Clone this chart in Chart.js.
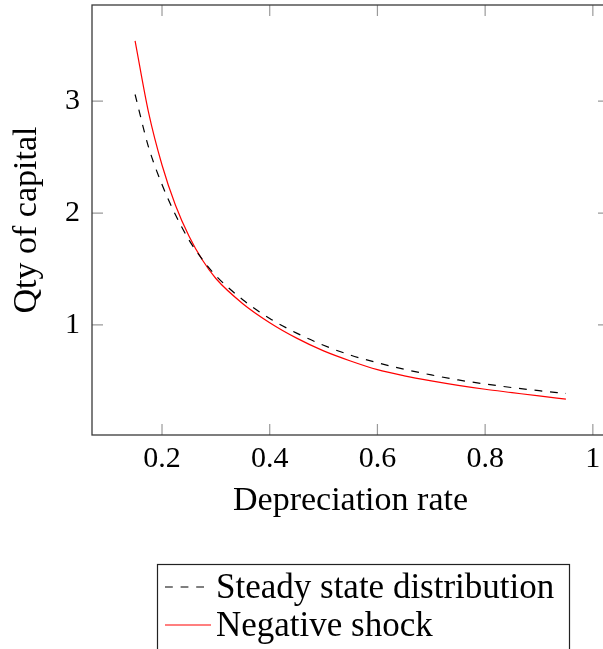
<!DOCTYPE html>
<html>
<head>
<meta charset="utf-8">
<script src="https://cdn.jsdelivr.net/npm/chart.js@4.4.1/dist/chart.umd.min.js"></script>
<style>
  html, body { margin: 0; padding: 0; background: #fff; overflow: hidden; }
  #wrap { position: relative; width: 612px; height: 649px; }
</style>
</head>
<body>
<div id="wrap"><canvas id="capitalChart"></canvas></div>
<script>
  // depreciation rate on x, quantity of capital on y
  const depreciation = [0.15, 0.175, 0.2, 0.225, 0.25, 0.275, 0.3, 0.35, 0.4, 0.45, 0.5, 0.55, 0.6, 0.65, 0.7, 0.75, 0.8, 0.85, 0.9, 0.95];
  const steadyState = [3.06, 2.59, 2.255, 1.985, 1.76, 1.585, 1.44, 1.225, 1.058, 0.927, 0.818, 0.73, 0.662, 0.603, 0.553, 0.508, 0.472, 0.44, 0.412, 0.387];
  const negativeShock = [3.54, 2.90, 2.43, 2.07, 1.795, 1.58, 1.415, 1.19, 1.02, 0.882, 0.768, 0.678, 0.60, 0.545, 0.50, 0.46, 0.425, 0.395, 0.365, 0.337];
  const xTicks = [0.2, 0.4, 0.6, 0.8, 1];
  const yTicks = [1, 2, 3];
  const seriesNames = ['Steady state distribution', 'Negative shock'];

  const SERIF = '"Liberation Serif", "Times New Roman", serif';

  function toPoints(ys) {
    return depreciation.map((x, i) => ({ x: x, y: ys[i] }));
  }

  // pgfplots-style box: ticks point inward on all four sides
  const frameTicks = {
    id: 'frameTicks',
    afterDatasetsDraw(chart) {
      const { ctx, chartArea: a, scales: { x, y } } = chart;
      const len = 11;
      ctx.save();
      ctx.strokeStyle = '#9a9a9a';
      ctx.lineWidth = 1.2;
      ctx.beginPath();
      xTicks.forEach(v => {
        const px = x.getPixelForValue(v);
        ctx.moveTo(px, a.bottom); ctx.lineTo(px, a.bottom - len);
        ctx.moveTo(px, a.top); ctx.lineTo(px, a.top + len);
      });
      yTicks.forEach(v => {
        const py = y.getPixelForValue(v);
        ctx.moveTo(a.left, py); ctx.lineTo(a.left + len, py);
        ctx.moveTo(a.right, py); ctx.lineTo(a.right - len, py);
      });
      ctx.stroke();
      ctx.strokeStyle = '#3a3a3a';
      ctx.lineWidth = 1.3;
      ctx.strokeRect(a.left, a.top, a.right - a.left, a.bottom - a.top);
      ctx.restore();
    }
  };

  // boxed legend under the axes
  const boxLegend = {
    id: 'boxLegend',
    afterDraw(chart) {
      const ctx = chart.ctx;
      const left = 157.5, top = 564.5, width = 412;
      const rows = [587, 625];
      ctx.save();
      ctx.strokeStyle = '#222';
      ctx.lineWidth = 1.2;
      ctx.strokeRect(left, top, width, 120);
      ctx.font = '35px ' + SERIF;
      ctx.fillStyle = '#000';
      ctx.textBaseline = 'alphabetic';
      chart.data.datasets.forEach((ds, i) => {
        const ry = rows[i];
        ctx.beginPath();
        ctx.strokeStyle = ds.borderColor;
        ctx.lineWidth = ds.borderWidth;
        ctx.setLineDash(ds.borderDash || []);
        ctx.moveTo(165, ry);
        ctx.lineTo(211, ry);
        ctx.stroke();
        ctx.setLineDash([]);
        ctx.fillText(ds.label, 216, ry + 11);
      });
      ctx.restore();
    }
  };

  new Chart(document.getElementById('capitalChart'), {
    type: 'line',
    data: {
      datasets: [
        {
          label: seriesNames[0],
          data: toPoints(steadyState),
          borderColor: '#000',
          borderWidth: 1.2,
          borderDash: [7.8, 7.8],
          pointRadius: 0,
          cubicInterpolationMode: 'monotone',
          fill: false
        },
        {
          label: seriesNames[1],
          data: toPoints(negativeShock),
          borderColor: '#ff0000',
          borderWidth: 1.2,
          pointRadius: 0,
          cubicInterpolationMode: 'monotone',
          fill: false
        }
      ]
    },
    options: {
      responsive: true,
      maintainAspectRatio: false,
      animation: false,
      layout: { padding: { top: 5, right: 3, bottom: 0, left: 0 } },
      plugins: {
        legend: { display: false },
        tooltip: { enabled: false }
      },
      scales: {
        x: {
          type: 'linear',
          min: 0.07,
          max: 1.03,
          afterBuildTicks: s => { s.ticks = xTicks.map(v => ({ value: v })); },
          afterFit: s => {
            s.height = 214;
            s.paddingLeft = 0;
            s.paddingRight = 0;
          },
          grid: { display: false, drawTicks: false },
          border: { display: false },
          ticks: {
            padding: 6,
            color: '#000',
            font: { family: SERIF, size: 30 },
            maxRotation: 0,
            callback: v => String(v)
          },
          title: {
            display: true,
            text: 'Depreciation rate',
            color: '#000',
            font: { family: SERIF, size: 34 },
            padding: { top: 0, bottom: 128 }
          }
        },
        y: {
          type: 'linear',
          min: 0.016,
          max: 3.86,
          afterBuildTicks: s => { s.ticks = yTicks.map(v => ({ value: v })); },
          afterFit: s => {
            s.width = 92;
            s.paddingTop = 0;
            s.paddingBottom = 0;
          },
          grid: { display: false, drawTicks: false },
          border: { display: false },
          ticks: {
            padding: 12,
            color: '#000',
            font: { family: SERIF, size: 30 },
            callback: v => String(v)
          },
          title: {
            display: true,
            text: 'Qty of capital',
            color: '#000',
            font: { family: SERIF, size: 34 },
            padding: { top: 7, bottom: 0 }
          }
        }
      }
    },
    plugins: [frameTicks, boxLegend]
  });
</script>
</body>
</html>
